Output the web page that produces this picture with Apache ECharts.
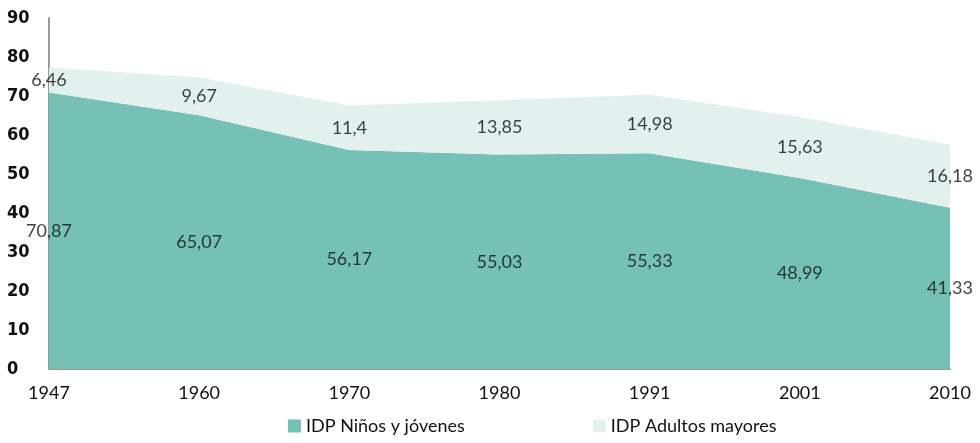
<!DOCTYPE html>
<html>
<head>
<meta charset="utf-8">
<script src="https://cdn.jsdelivr.net/npm/echarts@6/dist/echarts.min.js"></script>
<style>
  html, body { margin: 0; padding: 0; background: #fff; }
  #chart { width: 980px; height: 443px; }
</style>
</head>
<body>
<div id="chart"></div>
<script>
// datos
var years = ['1947', '1960', '1970', '1980', '1991', '2001', '2010'];
var ninos = [70.87, 65.07, 56.17, 55.03, 55.33, 48.99, 41.33];
var adultos = [6.46, 9.67, 11.4, 13.85, 14.98, 15.63, 16.18];
var yTicks = [0, 10, 20, 30, 40, 50, 60, 70, 80, 90];

function coma(v) { return String(v).replace('.', ','); }

// etiquetas en el centro de cada franja
var midNinos = ninos.map(function (v, i) { return [i, v / 2, v]; });
var midAdultos = adultos.map(function (v, i) { return [i, ninos[i] + v / 2, v]; });

var fuente = 'Lato, "Open Sans", sans-serif';

var myChart = echarts.init(document.getElementById('chart'));
var option = {
    animation: false,
    grid: { left: 49, right: 30, top: 18, bottom: 74 },
    legend: {
        bottom: 3,
        left: 283,
        itemWidth: 13,
        itemHeight: 13,
        itemGap: 128,
        icon: 'rect',
        textStyle: { color: '#111', fontSize: 18, fontFamily: fuente },
        data: ['IDP Niños y jóvenes', 'IDP Adultos mayores']
    },
    xAxis: {
        type: 'category',
        data: years,
        boundaryGap: false,
        axisLine: { lineStyle: { color: '#999', width: 2 } },
        axisTick: { show: false },
        axisLabel: { color: '#111', fontSize: 18, margin: 15, fontFamily: fuente }
    },
    yAxis: {
        type: 'value',
        min: yTicks[0],
        max: yTicks[yTicks.length - 1],
        interval: 10,
        axisLine: { show: true, lineStyle: { color: '#999', width: 2 } },
        axisTick: { show: false },
        splitLine: { show: false },
        axisLabel: {
            color: '#111', fontSize: 18, fontWeight: 'bold', margin: 42, align: 'left',
            fontFamily: '"Liberation Sans Narrow", "DejaVu Sans Condensed", sans-serif'
        }
    },
    series: [{
        name: 'IDP Niños y jóvenes',
        type: 'line',
        stack: 'total',
        data: ninos,
        symbol: 'none',
        lineStyle: { width: 0 },
        itemStyle: { color: '#76c1b5' },
        areaStyle: { color: '#76c1b5', opacity: 1 }
    }, {
        name: 'IDP Adultos mayores',
        type: 'line',
        stack: 'total',
        data: adultos,
        symbol: 'none',
        lineStyle: { width: 0 },
        itemStyle: { color: '#e2f1ee' },
        areaStyle: { color: '#e2f1ee', opacity: 1 }
    }, {
        type: 'scatter',
        z: 10,
        clip: false,
        data: midNinos.concat(midAdultos),
        symbolSize: 0,
        silent: true,
        label: {
            show: true,
            position: 'inside',
            color: '#111',
            fontSize: 18,
            fontFamily: fuente,
            formatter: function (p) { return coma(p.value[2]); }
        },
        labelLayout: { hideOverlap: false }
    }]
};
myChart.setOption(option);
</script>
</body>
</html>
